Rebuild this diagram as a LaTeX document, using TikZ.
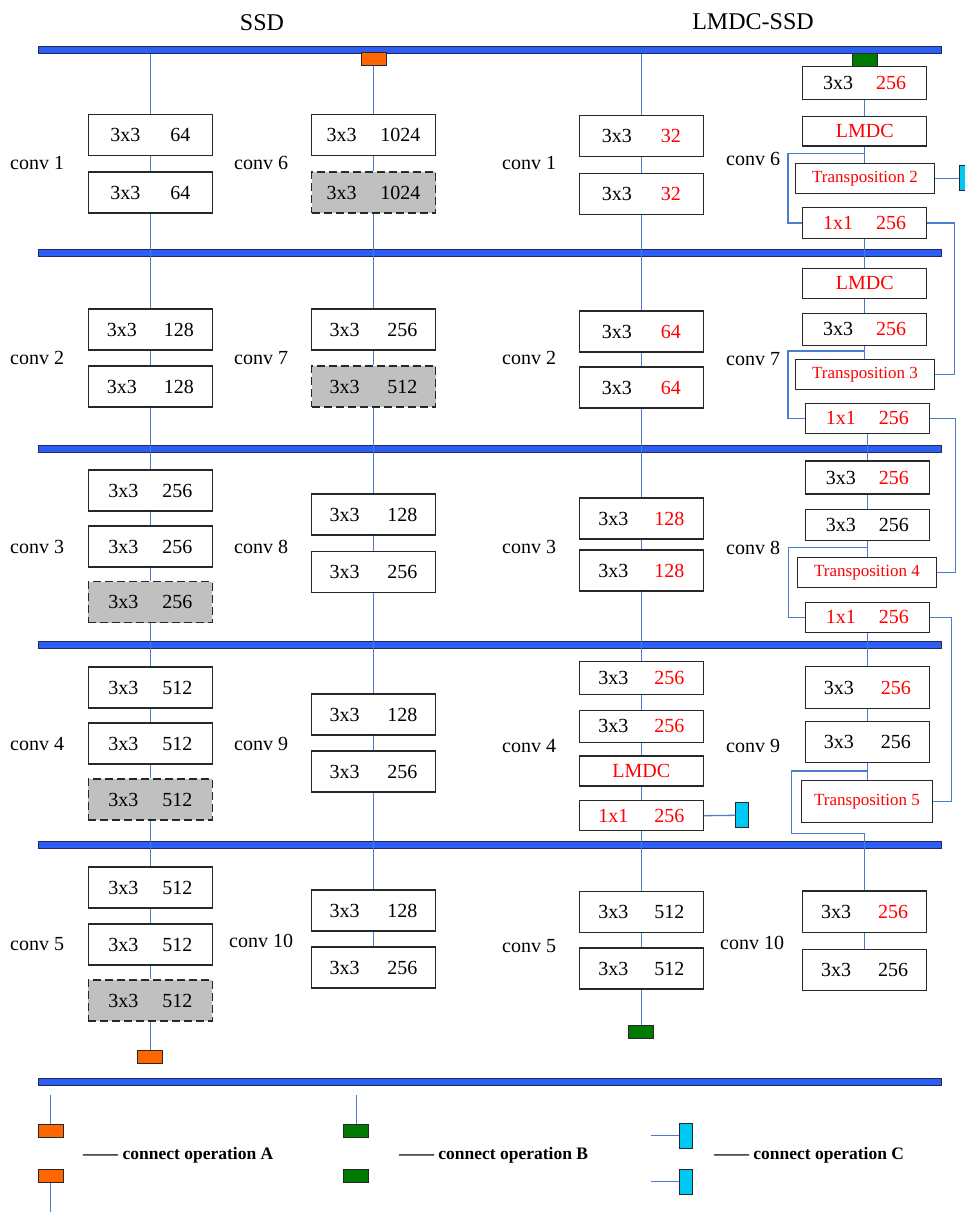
\documentclass[tikz,border=0pt]{standalone}
\usepackage{fontspec}
\setmainfont{Liberation Serif}
\definecolor{barblue}{RGB}{45,95,245}
\definecolor{bardark}{RGB}{30,40,90}
\definecolor{linkblue}{RGB}{75,125,205}
\definecolor{opA}{RGB}{255,102,0}
\definecolor{opB}{RGB}{0,122,0}
\definecolor{opC}{RGB}{0,200,245}
\definecolor{grayfill}{RGB}{192,192,192}
\definecolor{boxline}{RGB}{40,40,40}
\newcommand{\kn}[3][1.35em]{#2\hspace{#1}#3}
\newcommand{\rd}[1]{\textcolor{red}{#1}}
\tikzset{
  box/.style={draw=boxline, fill=white, line width=1.1pt, inner sep=0pt,
    minimum width=124pt, minimum height=41pt, font=\fontsize{20}{24}\selectfont},
  graybox/.style={box, fill=grayfill, dash pattern=on 8pt off 4pt},
  tbox/.style={box, font=\fontsize{17}{20}\selectfont, text=red},
  bar/.style={draw=bardark, fill=barblue, line width=1pt, minimum width=903.4pt,
    minimum height=7pt, inner sep=0pt},
  conn/.style={draw=linkblue, line width=1.3pt},
  lbl/.style={anchor=west, inner sep=0pt, font=\fontsize{20}{24}\selectfont},
  ttl/.style={inner sep=0pt, font=\fontsize{24}{28}\selectfont},
  opa/.style={draw=boxline, fill=opA, line width=1pt, minimum width=25pt, minimum height=13pt, inner sep=0pt},
  opb/.style={draw=boxline, fill=opB, line width=1pt, minimum width=25pt, minimum height=13pt, inner sep=0pt},
  opc/.style={draw=boxline, fill=opC, line width=1pt, minimum width=12.5pt, minimum height=25pt, inner sep=0pt},
  lgd/.style={anchor=west, inner sep=0pt, font=\fontsize{17.5}{20}\selectfont\bfseries},
}
\begin{document}
\begin{tikzpicture}[x=1pt,y=-1pt]
\useasboundingbox (0,0) rectangle (965,1212);
% titles
\node[ttl] (tssd) at (262,22.7) {SSD};
\node[ttl] (tlmdc) at (753,22) {LMDC-SSD};
% bars
\node[bar] (bar1) at (490,50.5) {};
\node[bar] (bar2) at (490,252.5) {};
\node[bar] (bar3) at (490,448.5) {};
\node[bar] (bar4) at (490,644.7) {};
\node[bar] (bar5) at (490,845.2) {};
\node[bar] (bar6) at (490,1082) {};
% labels
\node[lbl] (l1) at (10,163) {conv 1};
\node[lbl] (l2) at (10,358) {conv 2};
\node[lbl] (l3) at (10,547) {conv 3};
\node[lbl] (l4) at (10,744) {conv 4};
\node[lbl] (l5) at (10,944) {conv 5};
\node[lbl] (l6) at (234,163) {conv 6};
\node[lbl] (l7) at (234,358) {conv 7};
\node[lbl] (l8) at (234,547) {conv 8};
\node[lbl] (l9) at (234,744) {conv 9};
\node[lbl] (l10) at (229,941) {conv 10};
\node[lbl] (r1) at (502,163) {conv 1};
\node[lbl] (r2) at (502,358) {conv 2};
\node[lbl] (r3) at (502,547) {conv 3};
\node[lbl] (r4) at (502,746) {conv 4};
\node[lbl] (r5) at (502,946) {conv 5};
\node[lbl] (r6) at (726,159) {conv 6};
\node[lbl] (r7) at (726,359) {conv 7};
\node[lbl] (r8) at (726,548) {conv 8};
\node[lbl] (r9) at (726,746) {conv 9};
\node[lbl] (r10) at (720,943) {conv 10};
% ---- SSD column 1
\node[box] (c1a) at (150.3,134.7) {\kn[1.5em]{3x3}{64}};
\node[box] (c1b) at (150.3,192.5) {\kn[1.5em]{3x3}{64}};
\node[box] (c2a) at (150.3,329.5) {\kn{3x3}{128}};
\node[box] (c2b) at (150.3,386.5) {\kn{3x3}{128}};
\node[box] (c3a) at (150.3,490.5) {\kn[1.2em]{3x3}{256}};
\node[box] (c3b) at (150.3,546.5) {\kn[1.2em]{3x3}{256}};
\node[graybox] (c3c) at (150.3,602) {\kn[1.2em]{3x3}{256}};
\node[box] (c4a) at (150.3,687.5) {\kn[1.2em]{3x3}{512}};
\node[box] (c4b) at (150.3,743.5) {\kn[1.2em]{3x3}{512}};
\node[graybox] (c4c) at (150.3,799.5) {\kn[1.2em]{3x3}{512}};
\node[box] (c5a) at (150.3,887.5) {\kn[1.2em]{3x3}{512}};
\node[box] (c5b) at (150.3,944.5) {\kn[1.2em]{3x3}{512}};
\node[graybox] (c5c) at (150.3,1000.5) {\kn[1.2em]{3x3}{512}};
\node[opa] (oB) at (150.3,1057.2) {};
% ---- SSD column 2
\node[opa] (oT) at (373.7,59.2) {};
\node[box] (k6a) at (373.5,134.7) {\kn[1.2em]{3x3}{1024}};
\node[graybox] (k6b) at (373.5,192.5) {\kn[1.2em]{3x3}{1024}};
\node[box] (k7a) at (373.5,329.5) {\kn[1.4em]{3x3}{256}};
\node[graybox] (k7b) at (373.5,386.5) {\kn[1.4em]{3x3}{512}};
\node[box] (k8a) at (373.5,514.5) {\kn[1.4em]{3x3}{128}};
\node[box] (k8b) at (373.5,571.7) {\kn[1.4em]{3x3}{256}};
\node[box] (k9a) at (373.5,714.5) {\kn[1.4em]{3x3}{128}};
\node[box] (k9b) at (373.5,771.5) {\kn[1.4em]{3x3}{256}};
\node[box] (k10a) at (373.5,910.5) {\kn[1.4em]{3x3}{128}};
\node[box] (k10b) at (373.5,967.5) {\kn[1.4em]{3x3}{256}};
% ---- LMDC-SSD column 3
\node[box] (m1a) at (641.3,136.4) {\kn[1.45em]{3x3}{\rd{32}}};
\node[box] (m1b) at (641.3,194.2) {\kn[1.45em]{3x3}{\rd{32}}};
\node[box] (m2a) at (641.3,331.5) {\kn[1.45em]{3x3}{\rd{64}}};
\node[box] (m2b) at (641.3,387.5) {\kn[1.45em]{3x3}{\rd{64}}};
\node[box] (m3a) at (641.3,518.5) {\kn[1.3em]{3x3}{\rd{128}}};
\node[box] (m3b) at (641.3,570.5) {\kn[1.3em]{3x3}{\rd{128}}};
\node[box, minimum height=33pt] (m4a) at (641.3,678.3) {\kn[1.3em]{3x3}{\rd{256}}};
\node[box, minimum height=31.7pt] (m4b) at (641.3,726.2) {\kn[1.3em]{3x3}{\rd{256}}};
\node[box, minimum height=30pt, text=red] (m4c) at (641.3,771) {LMDC};
\node[box, minimum height=30pt] (m4d) at (641.3,815.7) {\kn[1.3em]{\rd{1x1}}{\rd{256}}};
\node[opc] (cB) at (742,815.3) {};
\node[box] (m5a) at (641.3,912.3) {\kn[1.3em]{3x3}{512}};
\node[box] (m5b) at (641.3,968.5) {\kn[1.3em]{3x3}{512}};
\node[opb] (gB) at (641.3,1032.3) {};
% ---- LMDC-SSD column 4
\node[opb] (gT) at (864.5,60) {};
\node[box, minimum height=32.6pt] (d6a) at (864.7,83) {\kn[1.15em]{3x3}{\rd{256}}};
\node[box, minimum height=29.3pt, text=red] (d6b) at (864.7,131.3) {LMDC};
\node[tbox, minimum width=138.6pt, minimum height=30pt] (d6t) at (865,178.3) {Transposition 2};
\node[box, minimum height=30.6pt] (d6c) at (864.7,223) {\kn[1.15em]{\rd{1x1}}{\rd{256}}};
\node[opc] (cT) at (965.6,178.3) {};
\node[box, minimum height=30pt, text=red] (d7a) at (864.7,283.3) {LMDC};
\node[box, minimum height=31.7pt] (d7b) at (864.7,329.2) {\kn[1.15em]{3x3}{\rd{256}}};
\node[tbox, minimum width=138.6pt, minimum height=30pt] (d7t) at (865,374.3) {Transposition 3};
\node[box, minimum height=30pt] (d7c) at (867.3,418.3) {\kn[1.15em]{\rd{1x1}}{\rd{256}}};
\node[box, minimum height=33pt] (d8a) at (867.3,477.5) {\kn[1.15em]{3x3}{\rd{256}}};
\node[box, minimum height=31.4pt] (d8b) at (867.3,525) {\kn[1.15em]{3x3}{256}};
\node[tbox, minimum width=139.4pt, minimum height=30pt] (d8t) at (867,572.3) {Transposition 4};
\node[box, minimum height=30pt] (d8c) at (867.3,617.3) {\kn[1.15em]{\rd{1x1}}{\rd{256}}};
\node[box, minimum height=41.6pt] (d9a) at (867.3,687.5) {\kn[1.35em]{3x3}{\rd{256}}};
\node[box, minimum height=41.3pt] (d9b) at (867.3,741.7) {\kn[1.35em]{3x3}{256}};
\node[tbox, minimum width=131.4pt, minimum height=41.6pt] (d9t) at (867,801.5) {Transposition 5};
\node[box, minimum height=41.7pt] (d10a) at (864.5,911.8) {\kn[1.35em]{3x3}{\rd{256}}};
\node[box, minimum height=41.4pt] (d10b) at (864.5,970) {\kn[1.35em]{3x3}{256}};
% ---- vertical connectors
\draw[conn] (bar1.south -| c1a.north) -- (c1a.north);
\foreach \a/\b in {c1a/c1b,c1b/c2a,c2a/c2b,c2b/c3a,c3a/c3b,c3b/c3c,c3c/c4a,c4a/c4b,c4b/c4c,c4c/c5a,c5a/c5b,c5b/c5c,c5c/oB,
  oT/k6a,k6a/k6b,k6b/k7a,k7a/k7b,k7b/k8a,k8a/k8b,k8b/k9a,k9a/k9b,k9b/k10a,k10a/k10b,
  m1a/m1b,m1b/m2a,m2a/m2b,m2b/m3a,m3a/m3b,m3b/m4a,m4a/m4b,m4b/m4c,m4c/m4d,m4d/m5a,m5a/m5b,m5b/gB,
  d6a/d6b,d6b/d6t,d6c/d7a,d7a/d7b,d7b/d7t,d7c/d8a,d8a/d8b,d8b/d8t,d8c/d9a,d9a/d9b,d9b/d9t,d10a/d10b}
  \draw[conn] (\a.south) -- (\a.south |- \b.north);
\draw[conn] (bar1.south -| m1a.north) -- (m1a.north);
% bypass connectors
\coordinate (j6) at (864.7,153.7);
\draw[conn] (j6) -- (788,153.7) |- (d6c.west);
\coordinate (j7) at (864.7,351);
\draw[conn] (j7) -- (788,351) |- (d7c.west);
\coordinate (j8) at (867.3,547.7);
\draw[conn] (j8) -- (788.3,547.7) |- (d8c.west);
\coordinate (j9) at (867.3,771);
\draw[conn] (j9) -- (791.7,771) |- (864.5,833.3) -- (d10a.north);
% return connectors
\draw[conn] (d6t.east) -- (cT.west);
\draw[conn] (d6c.east) -- ++(27.3,0) |- (d7t.east);
\draw[conn] (d7c.east) -- ++(25.7,0) |- (d8t.east);
\draw[conn] (d8c.east) -- ++(21.7,0) |- (d9t.east);
\draw[conn] (m4d.east) -- (cB.west);
% legend
\node[opa] (lA1) at (50.8,1130.8) {};
\node[opa] (lA2) at (50.8,1175.8) {};
\coordinate (lA1t) at (50.8,1095);
\coordinate (lA2b) at (50.8,1211.7);
\draw[conn] (lA1t) -- (lA1.north);
\draw[conn] (lA2.south) -- (lA2b);
\node[opb] (lB1) at (356.3,1130.8) {};
\node[opb] (lB2) at (356.3,1175.8) {};
\coordinate (lB1t) at (356.3,1095);
\draw[conn] (lB1t) -- (lB1.north);
\node[opc] (lC1) at (686.2,1135.8) {};
\node[opc] (lC2) at (686.2,1181.5) {};
\coordinate (lC1l) at (650.5,1135.8);
\coordinate (lC2l) at (650.5,1181.5);
\draw[conn] (lC1l) -- (lC1.west);
\draw[conn] (lC2l) -- (lC2.west);
\node[lgd] (tA) at (83,1155) {—— connect operation A};
\node[lgd] (tB) at (398.8,1155) {—— connect operation B};
\node[lgd] (tC) at (713.8,1155) {—— connect operation C};
\end{tikzpicture}
\end{document}
